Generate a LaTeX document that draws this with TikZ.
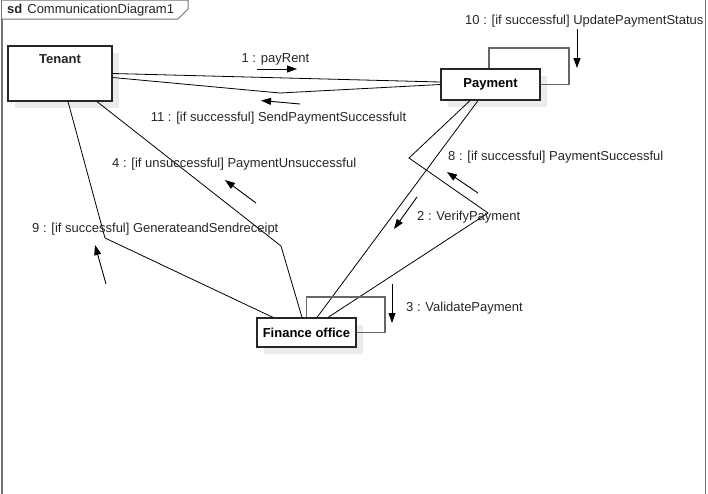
\documentclass[tikz,border=0pt]{standalone}
\usepackage{fontspec}
\setmainfont{Liberation Sans}
\usetikzlibrary{arrows.meta,shadows,calc}
\begin{document}
\begin{tikzpicture}[x=1pt,y=-1pt,
  lbl/.style={font=\fontsize{13}{15}\selectfont, text=black!85, inner sep=0pt, yshift=-2pt},
  obj/.style={draw=black!85, line width=1.2pt, fill=white, inner sep=0pt,
     drop shadow={shadow xshift=7pt, shadow yshift=-7pt, fill=black!8, opacity=1}},
  conn/.style={draw=black, line width=0.8pt},
  loopl/.style={draw=black!60, line width=1.4pt},
  msg/.style={draw=black, line width=0.9pt, -{Triangle[length=10pt,width=7pt]}},
  framel/.style={draw=black!55, line width=1.5pt}]
\useasboundingbox (0,0) rectangle (708,493);
% frame
\draw[framel] (2,-5) -- (2,500);
\draw[framel] (705.5,-5) -- (705.5,500);
\draw[draw=black!55, line width=1pt, fill=white] (2,0) -- (188,0) -- (188,9) -- (178,19) -- (2,19);
\node[lbl, anchor=west, yshift=1pt] (sd) at (7,9.5) {\textbf{sd}\hspace{5pt}CommunicationDiagram1};
% objects
\node[obj, minimum width=104pt, minimum height=55pt, label={[font=\fontsize{13}{15}\selectfont\bfseries, text=black!85, inner sep=0pt, anchor=north, yshift=-9pt]north:Tenant}] (tenant) at (60,73.5) {};
\node[obj, minimum width=99pt, minimum height=31pt, font=\fontsize{13}{15}\selectfont\bfseries] (payment) at (490.5,84.5) {Payment};
\node[obj, minimum width=99pt, minimum height=29pt, font=\fontsize{13}{15}\selectfont\bfseries] (finance) at (306.5,332.5) {Finance office};
% connectors
\draw[conn] (tenant.east) -- ([yshift=2.5pt]payment.west);
\draw[conn] ([yshift=-4pt]tenant.east) -- (280,93) -- (payment.west);
\draw[conn] ([xshift=8pt]tenant.south) -- (105,238) -- ([xshift=-33.5pt]finance.north);
\draw[conn] ([xshift=37pt]tenant.south) -- (281,246) -- ([xshift=-4.5pt]finance.north);
\draw[conn] ([xshift=-12.5pt]payment.south) -- ([xshift=10.5pt]finance.north);
\draw[conn] ([xshift=-20.5pt]payment.south) -- (409,158) -- (488,213) -- ([xshift=21.5pt]finance.north);
% self loops
\draw[loopl] ([xshift=-1.5pt]payment.north) |- (569,48) |- (payment.east);
\draw[loopl] (finance.north) |- (385,297) |- (finance.east);
% message arrows
\draw[msg] (257,69) -- (297,69);
\draw[msg] (300,104) -- (261,100.5);
\draw[msg] (577,29) -- (577,68);
\draw[msg] (392,284) -- (392,323);
\draw[msg] (417,197) -- (394,229);
\draw[msg] (478,193) -- (447,172);
\draw[msg] (256,203) -- (225,180);
\draw[msg] (106,284) -- (95,245);
% labels
\node[lbl] (l1) at (275.5,57) {1 : payRent};
\node[lbl] (l11) at (278.5,116) {11 : [if successful] SendPaymentSuccessfult};
\node[lbl, anchor=west] (l10) at (465,19.5) {10 : [if successful] UpdatePaymentStatus};
\node[lbl, anchor=west] (l4) at (112,162.5) {4 : [if unsuccessful] PaymentUnsuccessful};
\node[lbl, anchor=west] (l9) at (32,227.5) {9 : [if successful] GenerateandSendreceipt};
\node[lbl, anchor=west] (l8) at (448,155.5) {8 : [if successful] PaymentSuccessful};
\node[lbl, anchor=west] (l2) at (417,215.5) {2 : VerifyPayment};
\node[lbl, anchor=west] (l3) at (406,306.5) {3 : ValidatePayment};
\end{tikzpicture}
\end{document}
